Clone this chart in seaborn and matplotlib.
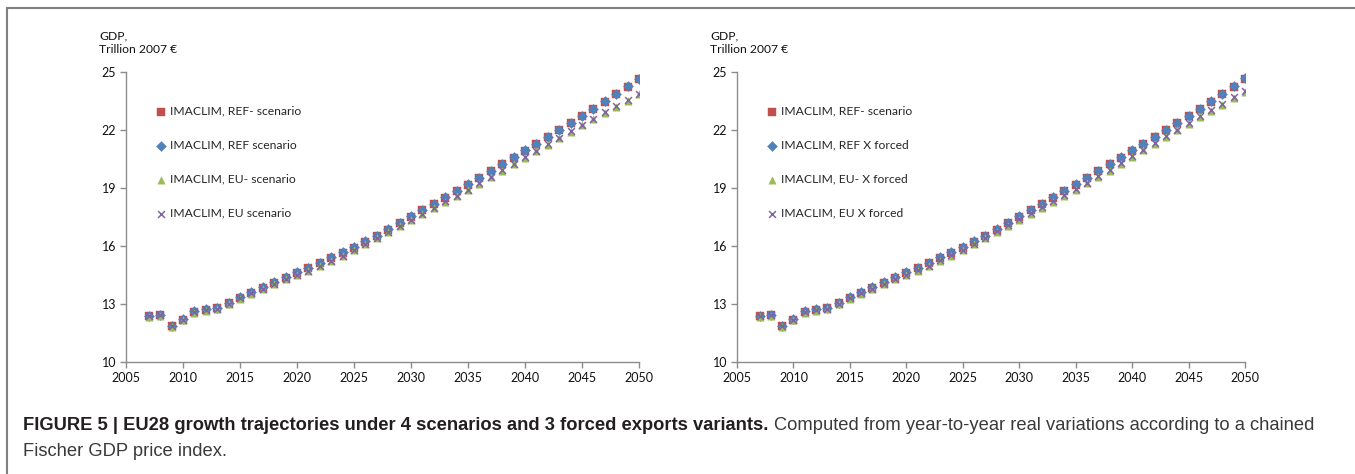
import numpy as np
import pandas as pd
import matplotlib
matplotlib.use("Agg")
import matplotlib.pyplot as plt
from matplotlib.lines import Line2D
import seaborn as sns

# ---- data ----
years = list(range(2007, 2051))

ref_minus = [12.37, 12.42, 11.86, 12.19, 12.60, 12.70, 12.77, 13.05, 13.33, 13.59,
             13.85, 14.11, 14.37, 14.62, 14.86, 15.12, 15.39, 15.65, 15.91, 16.22,
             16.52, 16.85, 17.18, 17.51, 17.84, 18.17, 18.50, 18.82, 19.17, 19.51,
             19.86, 20.22, 20.57, 20.92, 21.28, 21.64, 21.99, 22.35, 22.71, 23.09,
             23.47, 23.85, 24.23, 24.63]
ref = [12.39, 12.44, 11.88, 12.21, 12.62, 12.72, 12.79, 13.07, 13.35, 13.61,
       13.87, 14.13, 14.39, 14.64, 14.88, 15.14, 15.41, 15.67, 15.93, 16.24,
       16.54, 16.87, 17.20, 17.53, 17.86, 18.19, 18.52, 18.84, 19.19, 19.53,
       19.88, 20.24, 20.59, 20.94, 21.30, 21.66, 22.01, 22.37, 22.73, 23.11,
       23.49, 23.87, 24.25, 24.65]
eu_minus = [12.34, 12.39, 11.83, 12.16, 12.56, 12.66, 12.73, 13.00, 13.27, 13.53,
            13.78, 14.03, 14.28, 14.48, 14.71, 14.96, 15.22, 15.48, 15.78, 16.09,
            16.39, 16.72, 17.04, 17.35, 17.65, 17.97, 18.29, 18.58, 18.89, 19.22,
            19.56, 19.90, 20.23, 20.56, 20.90, 21.23, 21.57, 21.91, 22.25, 22.57,
            22.89, 23.21, 23.51, 23.84]
eu = [12.36, 12.41, 11.85, 12.18, 12.58, 12.68, 12.75, 13.02, 13.29, 13.55,
      13.80, 14.05, 14.30, 14.50, 14.73, 14.98, 15.24, 15.50, 15.80, 16.11,
      16.41, 16.74, 17.06, 17.37, 17.67, 17.99, 18.31, 18.60, 18.91, 19.24,
      19.58, 19.92, 20.25, 20.58, 20.92, 21.25, 21.59, 21.93, 22.27, 22.59,
      22.91, 23.23, 23.53, 23.86]

ref_x = [12.39, 12.44, 11.88, 12.21, 12.62, 12.72, 12.79, 13.07, 13.35, 13.61,
         13.87, 14.13, 14.39, 14.64, 14.88, 15.14, 15.41, 15.67, 15.93, 16.24,
         16.54, 16.87, 17.20, 17.53, 17.86, 18.19, 18.52, 18.84, 19.19, 19.53,
         19.88, 20.24, 20.59, 20.94, 21.30, 21.66, 22.01, 22.37, 22.73, 23.11,
         23.49, 23.87, 24.25, 24.67]
eu_minus_x = [12.34, 12.39, 11.83, 12.16, 12.56, 12.66, 12.73, 13.00, 13.27, 13.53,
              13.78, 14.03, 14.28, 14.49, 14.72, 14.97, 15.23, 15.49, 15.79, 16.10,
              16.40, 16.73, 17.05, 17.36, 17.67, 17.97, 18.28, 18.58, 18.91, 19.24,
              19.57, 19.90, 20.25, 20.60, 20.95, 21.28, 21.63, 21.98, 22.33, 22.68,
              22.98, 23.31, 23.64, 23.97]
eu_x = [12.36, 12.41, 11.85, 12.18, 12.58, 12.68, 12.75, 13.02, 13.29, 13.55,
        13.80, 14.05, 14.30, 14.51, 14.74, 14.99, 15.25, 15.51, 15.81, 16.12,
        16.42, 16.75, 17.07, 17.40, 17.71, 18.01, 18.32, 18.62, 18.95, 19.28,
        19.61, 19.94, 20.29, 20.64, 20.99, 21.32, 21.67, 22.02, 22.37, 22.73,
        23.03, 23.36, 23.69, 24.02]

RED, BLUE, GREEN, PURPLE = "#C0504D", "#4F81BD", "#9BBB59", "#8064A2"

left_series = [
    ("IMACLIM, REF- scenario", ref_minus, RED, "s"),
    ("IMACLIM, REF scenario", ref, BLUE, "D"),
    ("IMACLIM, EU- scenario", eu_minus, GREEN, "^"),
    ("IMACLIM, EU scenario", eu, PURPLE, "x"),
]
right_series = [
    ("IMACLIM, REF- scenario", ref_minus, RED, "s"),
    ("IMACLIM, REF X forced", ref_x, BLUE, "D"),
    ("IMACLIM, EU- X forced", eu_minus_x, GREEN, "^"),
    ("IMACLIM, EU X forced", eu_x, PURPLE, "x"),
]

sns.set_style("white")
plt.rcParams["font.family"] = ["Lato", "DejaVu Sans"]

W, H = 1355, 474
fig = plt.figure(figsize=(W / 100, H / 100), dpi=100)

SPINE = "#8C8C8C"


def draw_panel(ax, series):
    for label, vals, col, mk in series:
        df = pd.DataFrame({"year": years, "gdp": vals})
        if mk == "x":
            sns.scatterplot(data=df, x="year", y="gdp", ax=ax, marker="x",
                            color=col, s=24, linewidth=1.1, label=label)
        else:
            size = {"s": 32, "D": 26, "^": 28}[mk]
            sns.scatterplot(data=df, x="year", y="gdp", ax=ax, marker=mk,
                            color=col, s=size, edgecolor=col, linewidth=0.3,
                            label=label)
    ax.set_xlim(2005, 2050)
    ax.set_ylim(10, 25)
    ax.set_xticks(range(2005, 2051, 5))
    ax.set_yticks([10, 13, 16, 19, 22, 25])
    ax.set_xlabel("")
    ax.set_ylabel("")
    for s in ["top", "right"]:
        ax.spines[s].set_visible(False)
    for s in ["left", "bottom"]:
        ax.spines[s].set_color(SPINE)
        ax.spines[s].set_linewidth(1.0)
    ax.tick_params(axis="both", direction="out", length=4, width=1.0,
                   color=SPINE, labelsize=9, labelcolor="#111111", pad=3)
    ax.tick_params(axis="both", left=True, bottom=True)
    ax.legend(loc="upper left", bbox_to_anchor=(0.045, 0.90), frameon=False,
              fontsize=8.7, labelspacing=1.9, handletextpad=0.15,
              borderaxespad=0, handlelength=1.2)


ax1 = fig.add_axes([126 / W, 1 - 362 / H, 513 / W, 290 / H])
ax2 = fig.add_axes([737 / W, 1 - 362 / H, 508 / W, 290 / H])
draw_panel(ax1, left_series)
draw_panel(ax2, right_series)

for xpx in (99, 710):
    fig.text(xpx / W, 1 - 30 / H, "GDP,\nTrillion 2007 €", ha="left", va="top",
             fontsize=8.7, linespacing=1.35, color="#111111")

# frame of the figure panel
fig.add_artist(Line2D([7 / W, 1.0], [1 - 8 / H, 1 - 8 / H], color="#808080",
                      lw=1.5, transform=fig.transFigure))
fig.add_artist(Line2D([7 / W, 7 / W], [0, 1 - 8 / H], color="#808080",
                      lw=1.5, transform=fig.transFigure))

# caption
cap_font = ["Liberation Sans", "DejaVu Sans"]
t1 = fig.text(23 / W, 1 - 434 / H,
              "FIGURE 5 | EU28 growth trajectories under 4 scenarios and 3 forced exports variants.",
              family=cap_font, fontsize=13.2, fontweight="bold", color="#231F20",
              ha="left", va="bottom")
ax1.annotate("Computed from year-to-year real variations according to a chained",
             xy=(1, 0), xycoords=t1, xytext=(4, 0), textcoords="offset points",
             family=cap_font, fontsize=13.2, color="#3A3A3A", ha="left",
             va="bottom", annotation_clip=False)
fig.text(23 / W, 1 - 460 / H, "Fischer GDP price index.", family=cap_font,
         fontsize=13.2, color="#3A3A3A", ha="left", va="bottom")

fig.savefig("out.png", dpi=100, facecolor="white")
